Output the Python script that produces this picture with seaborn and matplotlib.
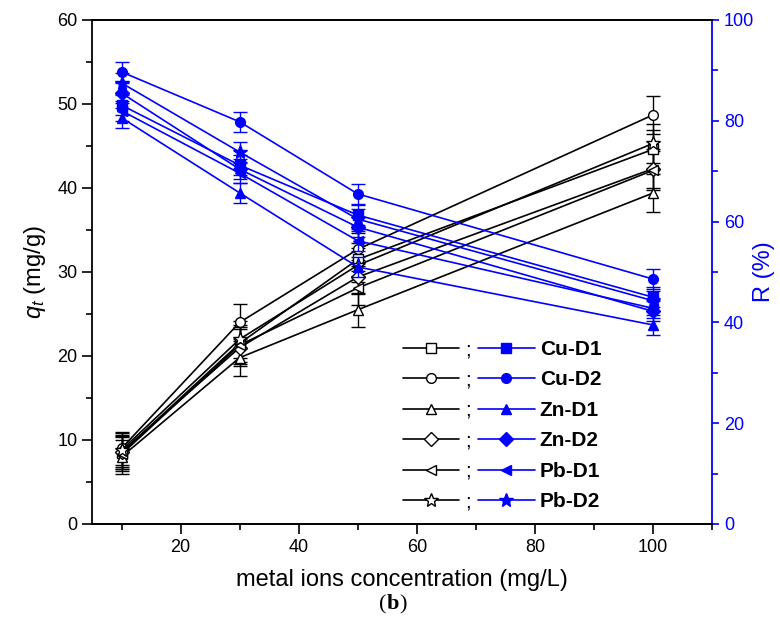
import numpy as np
import pandas as pd
import matplotlib
matplotlib.use("Agg")
import matplotlib.pyplot as plt
import seaborn as sns
from matplotlib.lines import Line2D
from matplotlib.offsetbox import TextArea, HPacker, AnnotationBbox
from matplotlib.ticker import MultipleLocator

# ---------------- data ----------------
conc = [10, 30, 50, 100]
series = ["Cu-D1", "Cu-D2", "Zn-D1", "Zn-D2", "Pb-D1", "Pb-D2"]
markers = ["s", "o", "^", "D", "<", "*"]

qt_cu_d1 = [8.5, 21.5, 31.5, 44.6]
qt_cu_d2 = [9.0, 24.0, 32.7, 48.7]
qt_zn_d1 = [8.0, 19.8, 25.5, 39.4]
qt_zn_d2 = [8.6, 21.0, 29.4, 42.3]
qt_pb_d1 = [8.3, 21.3, 28.1, 42.1]
qt_pb_d2 = [8.8, 22.0, 30.8, 45.3]

r_cu_d1 = [83.1, 71.2, 61.3, 45.0]
r_cu_d2 = [89.7, 79.8, 65.5, 48.6]
r_zn_d1 = [80.6, 65.7, 51.0, 39.5]
r_zn_d2 = [85.5, 70.4, 58.9, 42.2]
r_pb_d1 = [82.0, 69.6, 56.2, 42.8]
r_pb_d2 = [87.5, 73.8, 60.5, 44.3]

qt_err = [2.0, 2.2, 2.0, 2.3]
r_err = [2.0, 2.0, 2.0, 2.0]

qt_all = [qt_cu_d1, qt_cu_d2, qt_zn_d1, qt_zn_d2, qt_pb_d1, qt_pb_d2]
r_all = [r_cu_d1, r_cu_d2, r_zn_d1, r_zn_d2, r_pb_d1, r_pb_d2]

# ---------------- style ----------------
sns.set_style("ticks")
plt.rcParams["font.family"] = ["Liberation Sans", "DejaVu Sans"]
plt.rcParams["mathtext.fontset"] = "custom"
plt.rcParams["mathtext.rm"] = "Liberation Sans"
plt.rcParams["mathtext.it"] = "Liberation Sans:italic"
plt.rcParams["mathtext.bf"] = "Liberation Sans:bold"
plt.rcParams["text.color"] = "black"
plt.rcParams["axes.labelcolor"] = "black"
plt.rcParams["axes.edgecolor"] = "black"
plt.rcParams["xtick.color"] = "black"
plt.rcParams["ytick.color"] = "black"
plt.rcParams["legend.labelcolor"] = "black"

BLUE = "#0000ff"

fig = plt.figure(figsize=(7.8, 6.26), dpi=100)
ax = fig.add_axes([92/780, 1-524/626, 620/780, 504/626])
ax2 = ax.twinx()

def msize(m):
    return 10 if m == "*" else 7

for name, m, q, r in zip(series, markers, qt_all, r_all):
    df = pd.DataFrame({"conc": conc, "qt": q, "R": r})
    ax.errorbar(df["conc"], df["qt"], yerr=qt_err, fmt="none", ecolor="black",
                elinewidth=1.0, capsize=5, capthick=1.0, zorder=2)
    sns.lineplot(data=df, x="conc", y="qt", ax=ax, color="black", lw=1.2,
                 marker=m, markersize=msize(m), markerfacecolor="white",
                 markeredgecolor="black", markeredgewidth=1.0, zorder=3)
    ax2.errorbar(df["conc"], df["R"], yerr=r_err, fmt="none", ecolor=BLUE,
                 elinewidth=1.0, capsize=5, capthick=1.0, zorder=2)
    sns.lineplot(data=df, x="conc", y="R", ax=ax2, color=BLUE, lw=1.2,
                 marker=m, markersize=msize(m), markerfacecolor=BLUE,
                 markeredgecolor=BLUE, markeredgewidth=1.0, zorder=3)

ax.set_xlim(5, 110)
ax.set_ylim(0, 60)
ax2.set_ylim(0, 100)

ax.xaxis.set_major_locator(MultipleLocator(20))
ax.xaxis.set_minor_locator(MultipleLocator(10))
ax.yaxis.set_major_locator(MultipleLocator(10))
ax.yaxis.set_minor_locator(MultipleLocator(5))
ax2.yaxis.set_major_locator(MultipleLocator(20))
ax2.yaxis.set_minor_locator(MultipleLocator(10))

ax.tick_params(axis="both", which="major", direction="out", length=7, width=1.2,
               labelsize=13, colors="black")
ax.tick_params(axis="both", which="minor", direction="out", length=4, width=1.2,
               colors="black")
ax2.tick_params(axis="y", which="major", direction="out", length=5, width=1.2,
                labelsize=13, colors=BLUE)
ax2.tick_params(axis="y", which="minor", direction="out", length=4, width=1.2,
                colors=BLUE)

for sp in ax.spines.values():
    sp.set_linewidth(1.3)
    sp.set_color("black")
for sp in ax2.spines.values():
    sp.set_linewidth(1.3)
ax2.spines["top"].set_color("black")
ax2.spines["right"].set_color(BLUE)
ax2.spines["left"].set_visible(False)
ax.spines["right"].set_visible(False)

ax.set_xlabel("metal ions concentration (mg/L)", fontsize=17, color="black")
ax.set_ylabel(r"$q_t$ (mg/g)", fontsize=17, color="black")
ax2.set_ylabel("R (%)", fontsize=17, color=BLUE)
ax.xaxis.set_label_coords(0.5, -(580 - 524) / 504)
ax.yaxis.set_label_coords(-(92 - 35) / 620, 0.5)
ax2.yaxis.set_label_coords(1 + (764 - 712) / 620, 0.5)
ax.xaxis.label.set_va("center")
ax.yaxis.label.set_va("center")
ax2.yaxis.label.set_va("center")

# ---------------- legend ----------------
black_handles = [Line2D([], [], color="black", lw=1.2, marker=m,
                        markersize=msize(m),
                        markerfacecolor="white", markeredgecolor="black")
                 for m in markers]
blue_handles = [Line2D([], [], color=BLUE, lw=1.2, marker=m,
                       markersize=msize(m),
                       markerfacecolor=BLUE, markeredgecolor=BLUE)
                for m in markers]

leg_kw = dict(frameon=False, borderpad=0, borderaxespad=0, handlelength=2.7,
              labelspacing=0.55, handletextpad=0.25, loc="upper left",
              labelcolor="black")
leg1 = ax2.legend(black_handles, [";"] * 6, bbox_to_anchor=(0.502, 0.365),
                  prop={"size": 15}, **leg_kw)
ax2.add_artist(leg1)
leg2 = ax2.legend(blue_handles, series, bbox_to_anchor=(0.623, 0.365),
                  prop={"size": 15, "weight": "bold"}, **leg_kw)

# ---------------- (b) caption ----------------
parts = [TextArea("(", textprops=dict(family="Liberation Serif", size=16, color="black")),
         TextArea("b", textprops=dict(family="Liberation Serif", size=16, weight="bold",
                                      color="black")),
         TextArea(")", textprops=dict(family="Liberation Serif", size=16, color="black"))]
box = HPacker(children=parts, align="baseline", pad=0, sep=0)
ab = AnnotationBbox(box, (393/780, 1-604/626), xycoords="figure fraction",
                    frameon=False, box_alignment=(0.5, 0.5))
fig.add_artist(ab)

fig.savefig("out.png", dpi=100)
